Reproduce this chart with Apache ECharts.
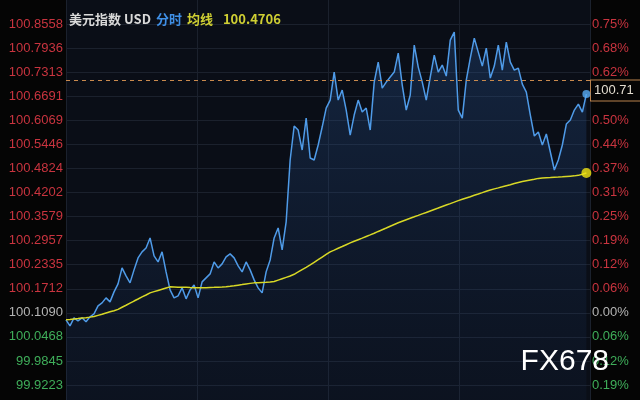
<!DOCTYPE html>
<html><head><meta charset="utf-8">
<script src="https://cdn.jsdelivr.net/npm/echarts@6/dist/echarts.min.js"></script>
<style>html,body{margin:0;padding:0;background:#050505}#c{width:640px;height:400px}</style>
</head><body><div id="c"></div>
<script>
const instrumentName = '美元指数 USD';
const modeName = '分时';
const avgName = '均线';
const avgLast = '100.4706';
const baseValue = 100.1090;
const priceTicks = ['100.8558','100.7936','100.7313','100.6691','100.6069','100.5446','100.4824','100.4202','100.3579','100.2957','100.2335','100.1712','100.1090','100.0468','99.9845','99.9223'];
const pctTicks = ['0.75%','0.68%','0.62%','0.56%','0.50%','0.44%','0.37%','0.31%','0.25%','0.19%','0.12%','0.06%','0.00%','0.06%','0.12%','0.19%'];
const sessionMinutes = 1440;
const sampleMinutes = 11;
const refPrice = 100.71;
const refLabel = '100.71';
const watermark = 'FX678';

const prices = [
100.0909,100.0754,100.0961,100.0883,100.0961,100.0858,100.0987,100.1064,100.1271,100.1348,
100.1477,100.1374,100.1632,100.1839,100.2252,100.2046,100.1865,100.2201,100.2511,100.2666,
100.2769,100.3027,100.2562,100.2407,100.2666,100.2149,100.1684,100.1477,100.1529,100.1736,
100.1452,100.1684,100.1813,100.1477,100.1891,100.1994,100.2097,100.2407,100.2252,100.2356,
100.2537,100.2614,100.2511,100.2304,100.2149,100.2407,100.2201,100.1942,100.1736,100.1607,
100.2149,100.2459,100.3027,100.3286,100.2717,100.3441,100.5042,100.5921,100.5817,100.5301,
100.6127,100.5094,100.5042,100.5430,100.5895,100.6386,100.6592,100.7316,100.6592,100.6851,
100.6334,100.5688,100.6205,100.6592,100.6282,100.6386,100.5817,100.7057,100.7574,100.6902,
100.7057,100.7187,100.7316,100.7807,100.6980,100.6334,100.6722,100.8013,100.7445,100.7057,
100.6592,100.7187,100.7755,100.7316,100.7497,100.7212,100.8142,100.8349,100.6334,100.6127,
100.7109,100.7677,100.8194,100.7832,100.7471,100.7936,100.7161,100.7471,100.8013,100.7367,
100.8091,100.7574,100.7367,100.7419,100.7006,100.6799,100.6205,100.5662,100.5766,100.5430,
100.5714,100.5249,100.4784,100.5042,100.5430,100.5972,100.6076,100.6334,100.6489,100.6282,
100.6747];

const avgPrices = [
100.0909,100.0920,100.0932,100.0943,100.0956,100.0966,100.0979,100.0994,100.1025,100.1054,
100.1085,100.1116,100.1144,100.1180,100.1235,100.1286,100.1341,100.1395,100.1447,100.1501,
100.1552,100.1607,100.1638,100.1669,100.1700,100.1731,100.1762,100.1759,100.1754,100.1751,
100.1749,100.1744,100.1741,100.1738,100.1738,100.1741,100.1746,100.1749,100.1754,100.1756,
100.1762,100.1775,100.1790,100.1806,100.1821,100.1837,100.1852,100.1865,100.1870,100.1875,
100.1880,100.1886,100.1899,100.1935,100.1971,100.2007,100.2043,100.2087,100.2147,100.2209,
100.2268,100.2330,100.2397,100.2464,100.2532,100.2599,100.2666,100.2712,100.2759,100.2805,
100.2852,100.2898,100.2940,100.2981,100.3022,100.3064,100.3105,100.3149,100.3195,100.3239,
100.3283,100.3330,100.3374,100.3418,100.3459,100.3498,100.3536,100.3573,100.3611,100.3650,
100.3686,100.3725,100.3764,100.3800,100.3839,100.3877,100.3914,100.3952,100.3991,100.4027,
100.4061,100.4094,100.4131,100.4164,100.4198,100.4234,100.4267,100.4296,100.4322,100.4350,
100.4379,100.4404,100.4433,100.4461,100.4484,100.4505,100.4526,100.4546,100.4567,100.4580,
100.4585,100.4590,100.4596,100.4601,100.4608,100.4616,100.4624,100.4632,100.4645,100.4675,
100.4706];

const minutes = prices.map((_, i) => i * sampleMinutes);
const priceData = prices.map((v, i) => [minutes[i], v]);
const avgData = avgPrices.map((v, i) => [minutes[i], v]);
const last = prices.length - 1;
const tickValues = priceTicks.map(Number);

function tickColor(v) {
  const d = Number(v) - baseValue;
  if (Math.abs(d) < 1e-6) return '#b4b4b4';
  return d > 0 ? '#c9343f' : '#3fae5a';
}

const chart = echarts.init(document.getElementById('c'), null, {renderer: 'canvas'});
chart.setOption({
  backgroundColor: '#050505',
  animation: false,
  title: {
    left: 64, top: 5,
    text: '{w|' + instrumentName + '} {b|' + modeName + '} {y|' + avgName + '}  {y|' + avgLast + '}',
    textStyle: {
      rich: {
        w: {color: '#d9d9d9', fontSize: 13, fontFamily: 'Noto Sans CJK SC'},
        b: {color: '#3f8fe6', fontSize: 13, fontFamily: 'Noto Sans CJK SC'},
        y: {color: '#cfcf33', fontSize: 13, fontFamily: 'Noto Sans CJK SC'}
      }
    }
  },
  grid: {left: 66, right: 50, top: 0, bottom: 0, show: true, backgroundColor: '#0a0e17', borderWidth: 0},
  xAxis: {
    type: 'value', min: 0, max: sessionMinutes, interval: 360,
    axisLine: {show: false}, axisTick: {show: false}, axisLabel: {show: false},
    splitLine: {show: true, lineStyle: {color: '#1b212d', width: 1}}
  },
  yAxis: [{
    type: 'value', position: 'left', min: 99.8836, max: 100.918,
    axisLine: {show: false}, axisTick: {show: false, customValues: tickValues},
    axisLabel: {customValues: tickValues, margin: 3, fontSize: 13, fontFamily: 'Liberation Sans',
      formatter: v => priceTicks[tickValues.indexOf(v)] ?? '', color: v => tickColor(v)},
    splitLine: {show: true, lineStyle: {color: '#1b212d', width: 1}}
  }, {
    type: 'value', position: 'right', min: 99.8836, max: 100.918,
    axisLine: {show: false}, axisTick: {show: false, customValues: tickValues},
    axisLabel: {customValues: tickValues, margin: 2, fontSize: 13, fontFamily: 'Liberation Sans',
      formatter: v => pctTicks[tickValues.indexOf(v)] ?? '', color: v => tickColor(v)},
    splitLine: {show: false}
  }],
  series: [{
    type: 'line', data: priceData, showSymbol: false, z: 3,
    lineStyle: {color: '#4f9be8', width: 1.5},
    areaStyle: {origin: 'start', color: new echarts.graphic.LinearGradient(0, 0, 0, 1, [
      {offset: 0, color: 'rgba(45,95,165,0.42)'}, {offset: 1, color: 'rgba(30,60,110,0.14)'}])},
    markLine: {
      silent: true, symbol: 'none',
      lineStyle: {color: '#c98a4e', type: [4, 4], width: 1},
      label: {show: true, position: 'end', distance: 1, formatter: refLabel, color: '#e2dccf',
        fontSize: 13, fontFamily: 'Liberation Sans', backgroundColor: '#050505', borderColor: '#b9824d',
        borderWidth: 1, padding: [3, 12, 4, 3], verticalAlign: 'top'},
      data: [{yAxis: refPrice}]
    }
  }, {
    type: 'line', data: avgData, showSymbol: false, z: 4,
    lineStyle: {color: '#d8d826', width: 1.5}
  }, {
    type: 'scatter', z: 5, symbolSize: 8,
    itemStyle: {color: '#58acf5'},
    data: [priceData[last]]
  }, {
    type: 'scatter', z: 5, symbolSize: 10,
    itemStyle: {color: '#f2e612'},
    data: [avgData[last]]
  }],
  graphic: [{
    type: 'text', right: 31, bottom: 23, z: 20,
    style: {text: watermark, fill: '#ffffff', fontSize: 30, fontFamily: 'Liberation Sans', letterSpacing: 2.5}
  }]
});
</script>
</body></html>
